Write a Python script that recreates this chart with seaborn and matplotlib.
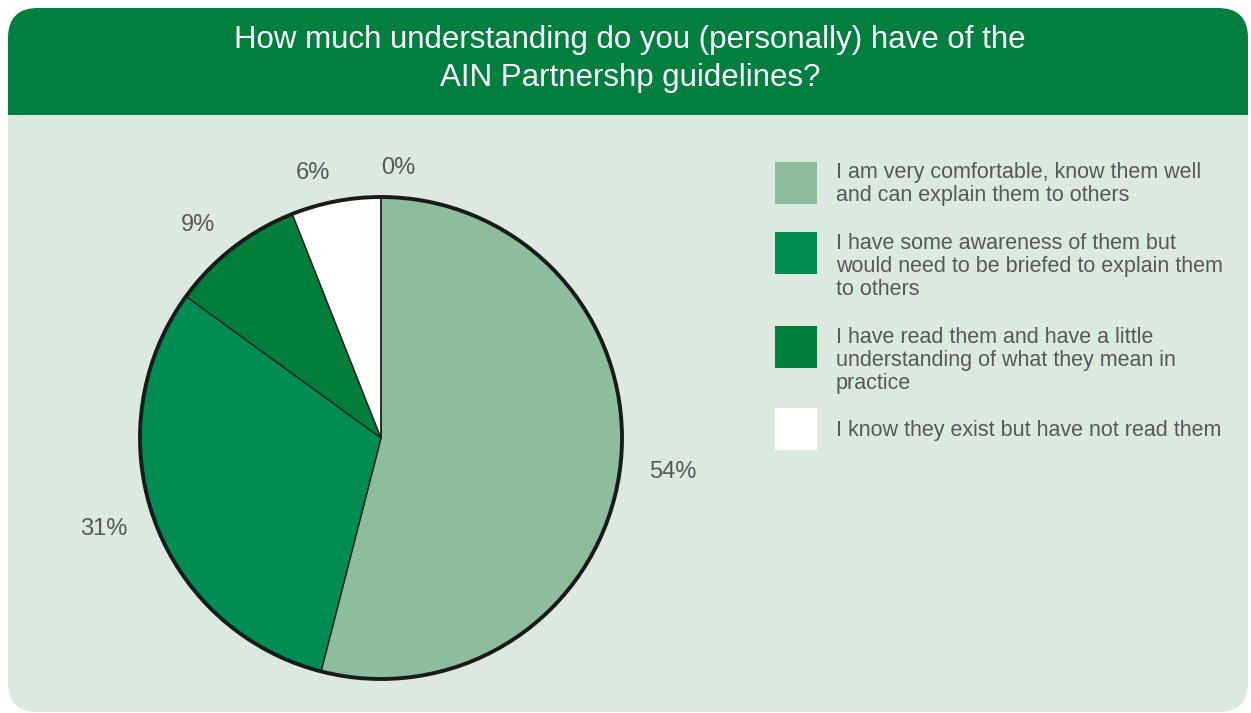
import matplotlib
matplotlib.use("Agg")
import matplotlib.pyplot as plt
from matplotlib.patches import FancyBboxPatch, Rectangle, Circle
import seaborn as sns

sns.set_theme(style="white")
plt.rcParams['font.family'] = ['Liberation Sans', 'DejaVu Sans']

# ---- data ----
title = "How much understanding do you (personally) have of the\nAIN Partnershp guidelines?"
categories = [
    "I am very comfortable, know them well\nand can explain them to others",
    "I have some awareness of them but\nwould need to be briefed to explain them\nto others",
    "I have read them and have a little\nunderstanding of what they mean in\npractice",
    "I know they exist but have not read them",
    "No answer",
]
values = [54, 31, 9, 6, 0]
pct_labels = ["54%", "31%", "9%", "6%", "0%"]
colors = ["#8dbd9c", "#008c52", "#007e3a", "#ffffff", "#ffffff"]

W, H = 1251, 713
fig = plt.figure(figsize=(W / 100, H / 100), dpi=100)
fig.patch.set_facecolor("white")
ax = fig.add_axes([0, 0, 1, 1])

def Y(y):
    return H - y

# background panel
body = FancyBboxPatch((8, Y(712)), 1240, 712 - 8, boxstyle="round,pad=0,rounding_size=30",
                      facecolor="#dce9df", edgecolor="none", zorder=0)
ax.add_patch(body)
header = FancyBboxPatch((8, Y(115)), 1240, 115 - 8, boxstyle="round,pad=0,rounding_size=30",
                        facecolor="#007f3e", edgecolor="none", zorder=1)
ax.add_patch(header)
ax.add_patch(Rectangle((8, Y(115)), 1240, 40, facecolor="#007f3e", edgecolor="none", zorder=1))

ax.text(630, Y(59), title, ha="center", va="center", color="white", fontsize=22.5,
        linespacing=1.33, zorder=3)

# pie
cx, cy, R = 381, Y(438), 241
wedges, texts = ax.pie(values, colors=colors, startangle=90, counterclock=False,
                       center=(cx, cy), radius=R, labels=pct_labels, labeldistance=1.12,
                       wedgeprops=dict(edgecolor="#222222", linewidth=1.0),
                       textprops=dict(color="#585858", fontsize=17))
for t in texts:
    tx, ty = t.get_position()
    t.set_ha("left" if tx >= cx - 1e-6 else "right")
    t.set_va("center")
    t.set_zorder(4)
for w in wedges:
    w.set_zorder(2)
ax.add_patch(Circle((cx, cy), R, facecolor="none", edgecolor="#1a1a1a", linewidth=2.8, zorder=3))

# legend
sq_tops = [162, 232, 326, 408]
txt_tops = [162, 233, 327, 420]
for i in range(4):
    ax.add_patch(Rectangle((775, Y(sq_tops[i] + 42)), 42, 42, facecolor=colors[i],
                           edgecolor="none", zorder=2))
    ax.text(836, Y(txt_tops[i]), categories[i], ha="left", va="top", color="#585858",
            fontsize=15.5, linespacing=1.11, zorder=3)

ax.set_xlim(0, W)
ax.set_ylim(0, H)
ax.set_aspect("equal")
ax.axis("off")

fig.savefig("out.png", dpi=100)
